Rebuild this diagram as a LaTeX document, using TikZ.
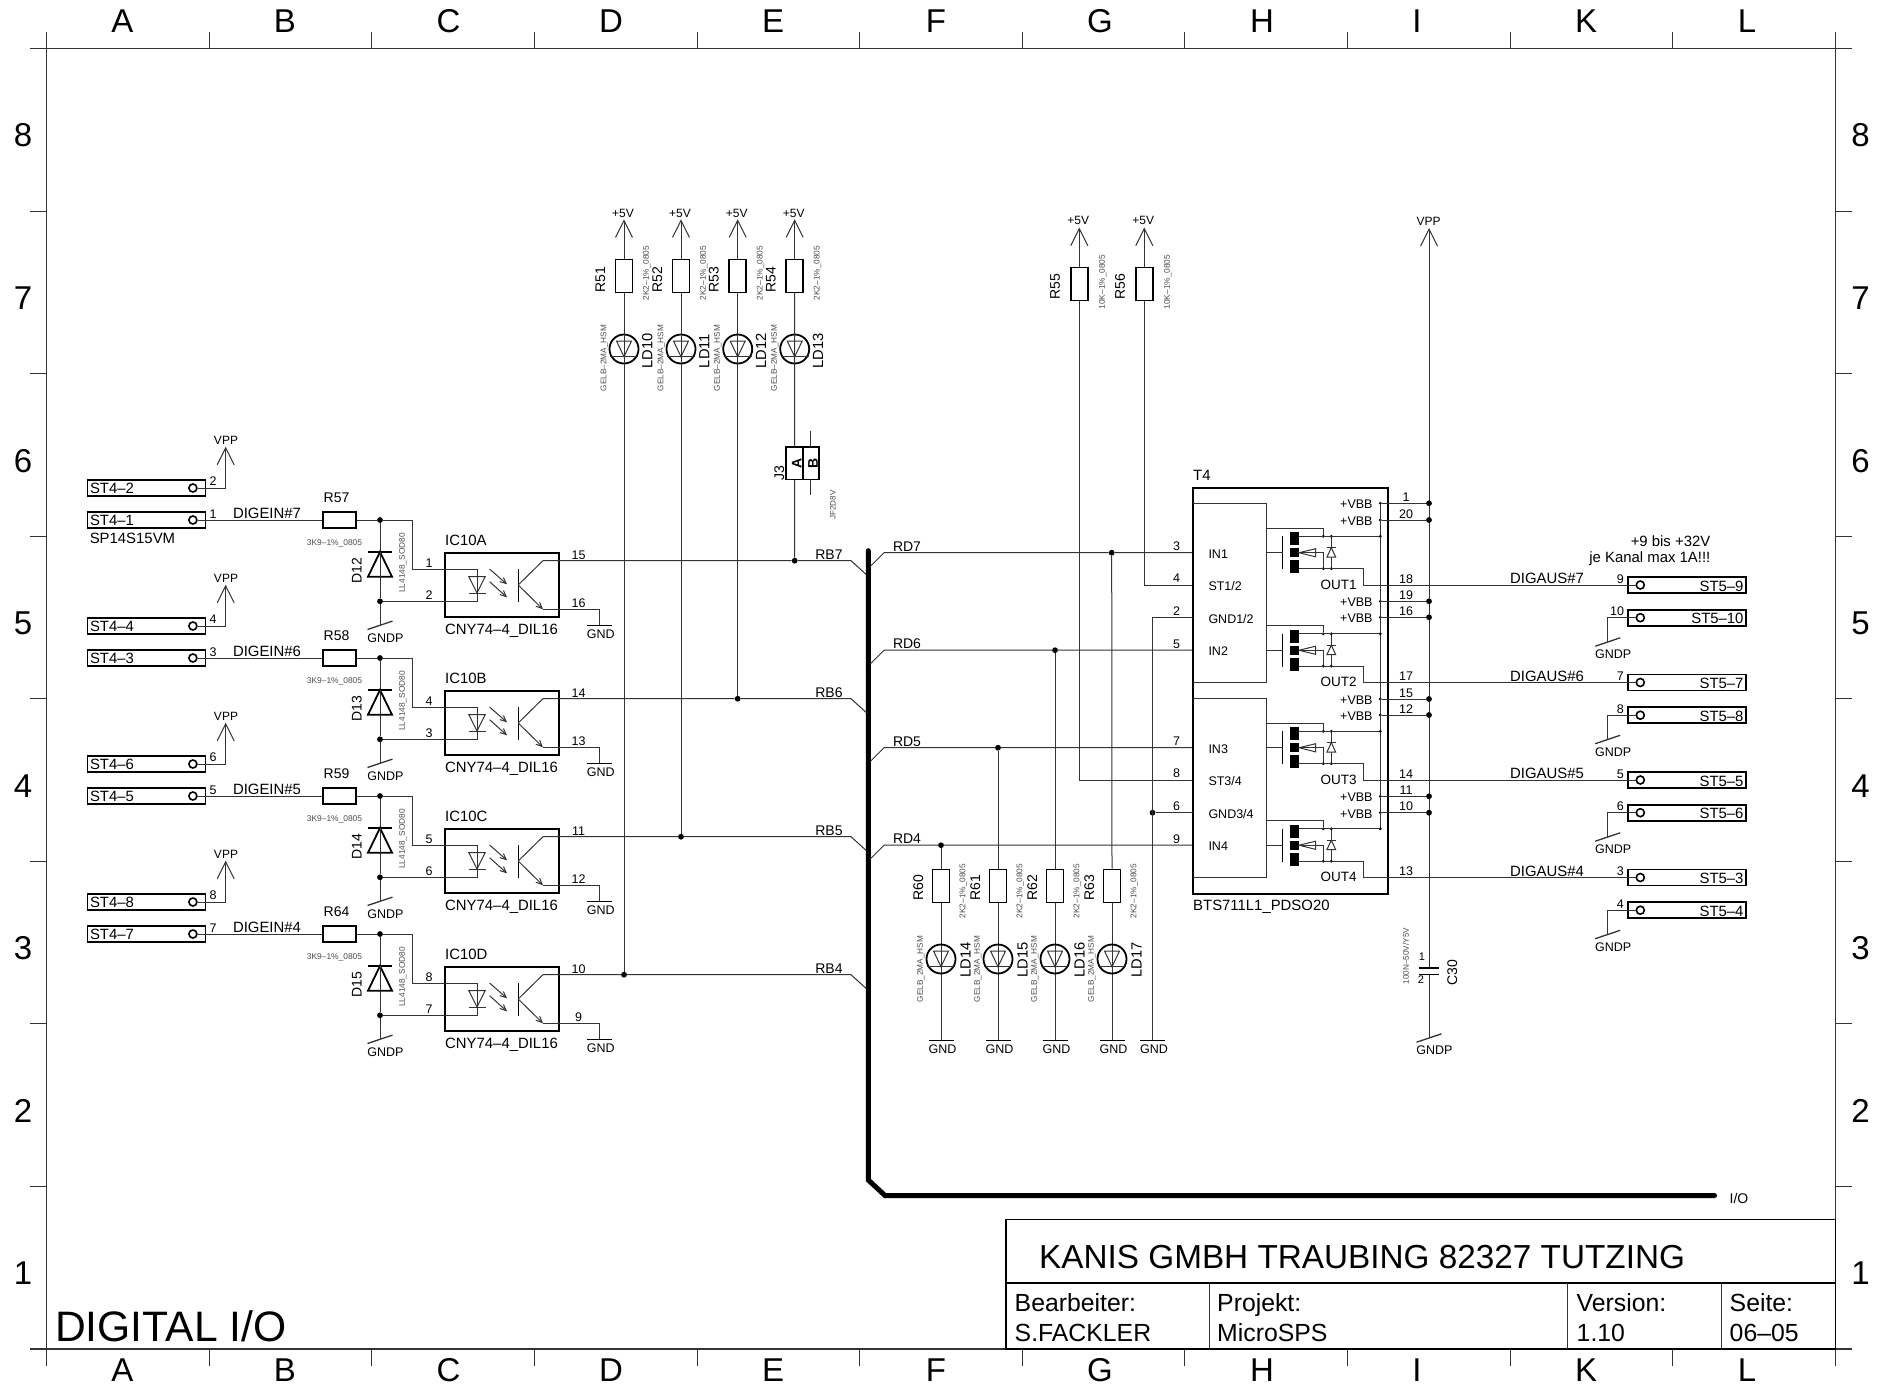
\documentclass[tikz,border=0pt]{standalone}
\usepackage{fontspec}
\setmainfont{Liberation Sans}
\usetikzlibrary{arrows.meta}

\tikzset{
    txt/.style={inner sep=0pt, font=\fontsize{#1}{#1}\selectfont, text height=#1*0.72pt, text depth=0pt},
    big/.style={txt=14.9},
    small/.style={txt=12.5},
    tiny/.style={txt=#1, text=black!70},
    wire/.style={line width=1pt, black!80},
    heavy/.style={line width=1.8pt, black},
    railtip/.style={-{Straight Barb[length=17pt,width=17pt]}},
    smalltip/.style={-{Straight Barb[length=6pt,width=5.5pt]}},
    stbox/.style={draw, line width=1.8pt, minimum width=118pt, minimum height=16pt, inner sep=0pt},
    stpad/.style={draw, circle, line width=1.6pt, minimum size=8pt, inner sep=0pt},
    resv/.style={draw, line width=1.6pt, minimum width=17pt, minimum height=33pt, inner sep=0pt},
    resh/.style={draw, line width=1.6pt, minimum width=33pt, minimum height=16.5pt, inner sep=0pt},
    dot/.style={fill=black, circle, minimum size=5.8pt, inner sep=0pt},
    minidot/.style={fill=black, circle, minimum size=3.2pt, inner sep=0pt},
    jumper/.style={draw, line width=1.6pt, minimum width=16.5pt, minimum height=32.6pt, inner sep=0pt},
    ledsym/.pic={
        \draw[heavy] (0,0) circle [radius=14.5pt];
        \draw[wire] (-7.5,-8) -- (7.5,-8) -- (0,7.7) -- cycle;
        \draw[wire] (-14,7.7) -- (14,7.7);
    },
    gndsym/.pic={
        \draw[heavy, line width=1.3pt] (-12.5,0) -- (12.5,0);
        \node[small] (-t) at (1.5,8.5) {GND};
    },
    gndpsym/.pic={
        \draw[wire, line width=1.3pt] (-12.5,4.2) -- (12.5,-4.2);
        \node[small] (-t) at (5.5,12.4) {GNDP};
    },
    fetsym/.pic={
        \fill (0,-20.7) rectangle (9,-7.7);
        \fill (0,-4.7) rectangle (9,4);
        \fill (0,7.3) rectangle (9,20);
        \draw[heavy, line width=1.3pt] (-7.3,-17) -- (-7.3,16.3);
        \draw[wire] (9,-0.3) -- (25.7,-0.3);
        \draw[wire] (9,-0.3) -- (25.7,-4.3) -- (25.7,3.9) -- cycle;
        \draw[wire] (25.7,-0.3) -- (33.3,-0.3) -- (33.3,16);
        \draw[wire] (41.3,-16) -- (41.3,16);
        \draw[wire, fill=white] (41.3,-5.4) -- (37,4) -- (45.6,4) -- cycle;
        \draw[wire] (36.6,-5.4) -- (46,-5.4);
    }
}

\begin{document}
\begin{tikzpicture}[x=1pt, y=-1pt]
    \useasboundingbox (0,0) rectangle (1888,1387);

    % Frame
    \draw[wire, line width=1.3pt] (30,48.5) -- (1852,48.5);
    \draw[wire, line width=1.3pt] (30,1349) -- (1852,1349);
    \draw[wire, line width=1.3pt] (46.7,32) -- (46.7,1366);
    \draw[wire, line width=1.3pt] (1835.3,32) -- (1835.3,1366);
    \foreach \k in {1,...,10} {
        \draw[wire] (46.7+162.6*\k,32) -- (46.7+162.6*\k,48.5);
        \draw[wire] (46.7+162.6*\k,1349) -- (46.7+162.6*\k,1366);
    }
    \foreach \k in {1,...,7} {
        \draw[wire] (30,48.5+162.56*\k) -- (46.7,48.5+162.56*\k);
        \draw[wire] (1835.3,48.5+162.56*\k) -- (1852,48.5+162.56*\k);
    }
    \foreach \c/\x in {A/122.5,B/285,C/448.5,D/611,E/773,F/936,G/1100,H/1262,I/1417,K/1586,L/1747} {
        \node[txt=33] (top\c) at (\x,20.5) {\c};
        \node[txt=33] (bot\c) at (\x,1369.5) {\c};
    }
    \foreach \r in {1,...,8} {
        \node[txt=33] (lft\r) at (23,135+162.56*8-162.56*\r) {\r};
        \node[txt=33] (rgt\r) at (1860.5,135+162.56*8-162.56*\r) {\r};
    }

    % Title block
    \draw[heavy, line width=1.4pt] (1006,1219.5) rectangle (1835.3,1349);
    \draw[heavy, line width=1.4pt] (1006,1283) -- (1835.3,1283);
    \draw[wire] (1209,1283) -- (1209,1349);
    \draw[wire] (1567,1283) -- (1567,1349);
    \draw[wire] (1721,1283) -- (1721,1349);
    \node[txt=33.3, anchor=base west] (title) at (1039,1268) {KANIS GMBH TRAUBING 82327 TUTZING};
    \node[txt=42.6, anchor=base west] (sheet) at (55,1341) {DIGITAL I/O};
    \foreach \x/\top/\bot in {1014.5/Bearbeiter:/S.FACKLER, 1217/Projekt:/MicroSPS, 1576.5/Version:/1.10, 1729.5/Seite:/06–05} {
        \node[txt=24.8, anchor=base west] at (\x,1311.5) {\top};
        \node[txt=24.8, anchor=base west] at (\x,1341.5) {\bot};
    }

    % Bus
    \draw[line width=5pt, line cap=round] (868.3,550.7) -- (868.3,1180) -- (885,1195.5) -- (1714.5,1195.5);
    \node[txt=14] (io) at (1739,1198) {I/O};

    % Input channels
    \foreach \ch/\dy/\pa/\pb/\ra/\da/\ic/\ia/\ib/\oa/\ob/\tap in {
        7/0/2/1/57/12/A/1/2/15/16/794.7,
        6/138/4/3/58/13/B/4/3/14/13/737.7,
        5/276/6/5/59/14/C/5/6/11/12/681,
        4/414/8/7/64/15/D/8/7/10/9/624} {
    \begin{scope}[shift={(0,\dy)}]
        % Connector with VPP
        \node[stbox] (st\pa) at (146.5,488) {};
        \node[big, anchor=west] (stt\pa) at (89.8,488) {ST4–\pa};
        \node[stpad] (pad\pa) at (192.9,488) {};
        \coordinate (vpp\pa) at (225.7,446.7);
        \draw[wire] (pad\pa) -- (st\pa.east);
        \draw[wire, railtip] (st\pa.east) -| (vpp\pa);
        \node[txt=12] (vppt\pa) at (226,440) {VPP};
        \node[small] (pa\pa) at (213,481) {\pa};

        % Connector with signal
        \node[stbox] (st\pb) at (146.5,520) {};
        \node[big, anchor=west] (stt\pb) at (89.8,520) {ST4–\pb};
        \node[stpad] (pad\pb) at (192.9,520) {};
        \node[small] (pb\pb) at (213,513.5) {\pb};
        \node[big] (dig\ch) at (267,513.5) {DIGEIN\#\ch};
        \node[resh] (R\ra) at (339.5,520) {};
        \node[txt=14] (Rt\ra) at (336.5,497.5) {R\ra};
        \node[tiny=8.4] (Rv\ra) at (334.5,542.5) {3K9–1\%\_0805};
        \draw[wire] (pad\pb) -- (R\ra.west);

        % Protection diode
        \node[dot] (da\da) at (380,520) {};
        \node[dot] (db\da) at (380,601.3) {};
        \coordinate (gp\da) at (380,625.3);
        \draw[wire] (R\ra.east) -- (da\da) -- (db\da) -- (gp\da);
        \draw[heavy, fill=white] (380,552) -- (368,576.7) -- (392,576.7) -- cycle;
        \draw[heavy] (368,552) -- (392,552);
        \draw[wire] (380,552) -- (380,576.7);
        \pic (gp\da s) at (gp\da) {gndpsym};
        \node[txt=14, rotate=90] (Dt\da) at (356.5,571) {D\da};
        \node[tiny=8.3, rotate=90] (Dv\da) at (402,563) {LL4148\_SOD80};

        % Optocoupler
        \node[draw, line width=1.8pt, minimum width=114pt, minimum height=64.6pt, inner sep=0pt] (ic\ic) at (502,585) {};
        \node[big, anchor=west] (ict\ic) at (445,540) {IC10\ic};
        \node[big, anchor=west] (icv\ic) at (445,629) {CNY74–4\_DIL16};
        \coordinate (an\ic) at (477,569);
        \coordinate (ka\ic) at (477,601.3);
        \draw[wire] (da\da) -- (412.9,520) -- (412.9,569) -- (an\ic) -- (ka\ic) -- (db\da);
        \draw[wire] (468.8,576.7) -- (485.2,576.7) -- (477,593) -- cycle;
        \draw[wire] (468.5,593) -- (485.5,593);
        \node[small] (ia\ic) at (429,563) {\ia};
        \node[small] (ib\ic) at (429,594.5) {\ib};
        \draw[wire, smalltip] (489.6,569) -- (507,584.3);
        \draw[wire, smalltip] (489.6,581.7) -- (507,597.3);
        \draw[heavy, line width=1.3pt] (518.2,569) -- (518.2,601.7);
        \draw[wire, smalltip] (518.2,585) -- (542.9,609.3);
        \draw[wire] (518.2,585) -- (542.9,560.7);
        \coordinate (gn\ic) at (599.3,625.7);
        \draw[wire] (542.9,609.3) -| (gn\ic);
        \pic (gn\ic s) at (gn\ic) {gndsym};
        \node[small] (oa\ic) at (578.6,555) {\oa};
        \node[small] (ob\ic) at (578.6,602.5) {\ob};

        % Line to bus
        \node[dot] (tap\ch) at (\tap,560.7) {};
        \draw[wire] (542.9,560.7) -- (tap\ch) -- (851,560.7) -- (866,574.3);
        \node[txt=14] (rb\ch) at (829,554) {RB\ch};
    \end{scope}
    }
    \node[big, anchor=west] (st4type) at (89.6,538.3) {SP14S15VM};

    % LED columns from +5V
    \foreach \x/\r/\l/\ch in {624/51/10/4, 681/52/11/5, 737.7/53/12/6, 794.7/54/13/7} {
        \coordinate (rail\r) at (\x,219.3);
        \node[resv] (R\r) at (\x,275.8) {};
        \draw[wire, railtip] (R\r.north) -- (rail\r);
        \node[txt=12] (railt\r) at (\x-1,213) {+5V};
        \node[txt=14, rotate=90] (Rt\r) at (\x-24,279.5) {R\r};
        \node[tiny=8.3, rotate=90] (Rv\r) at (\x+22,273) {2K2–1\%\_0805};
        \pic (LD\l) at (\x,349) {ledsym};
        \node[txt=14.7, rotate=90] (LDt\l) at (\x+23.2,351) {LD\l};
        \node[tiny=8.2, rotate=90] (LDv\l) at (\x-20.7,358) {GELB–2MA\_HSM};
        \ifnum\r=54\else
            \draw[wire] (R\r.south) -- (tap\ch);
        \fi
    }

    % Jumper J3
    \node[jumper] (J3a) at (794.5,463) {};
    \node[jumper] (J3b) at (811,463) {};
    \node[font=\bfseries\fontsize{14}{14}\selectfont, inner sep=0pt, rotate=90] (J3at) at (796.7,463) {A};
    \node[font=\bfseries\fontsize{14}{14}\selectfont, inner sep=0pt, rotate=90] (J3bt) at (813,463) {B};
    \draw[wire] (R54.south) -- (J3a.north);
    \draw[wire] (J3a.south) -- (tap7);
    \draw[wire] (810.7,430.7) -- (810.7,446.7);
    \draw[wire] (810.7,479.3) -- (810.7,495.3);
    \node[txt=14, rotate=90] (J3t) at (779,472.7) {J3};
    \node[tiny=8, rotate=90] (J3v) at (832.7,505) {JF2D8V};

    % Driver lines
    \foreach \n/\dy/\xd in {7/0/1111.7, 6/97.5/1055, 5/195/998, 4/292.5/941} {
    \begin{scope}[shift={(0,\dy)}]
        \node[dot] (rd\n) at (\xd,552.7) {};
        \draw[wire] (870,566.7) -- (884,552.7) -- (rd\n) -- (1192.7,552.7);
        \node[txt=14] (rdt\n) at (907,546) {RD\n};
    \end{scope}
    }

    % LED columns to GND
    \foreach \x/\r/\l/\n in {941/60/14/4, 998/61/15/5, 1055/62/16/6, 1112/63/17/7} {
        \node[resv] (R\r) at (\x,885.8) {};
        \draw[wire] (rd\n) -- (R\r.north);
        \coordinate (gl\r) at (\x,1040.3);
        \draw[wire] (R\r.south) -- (gl\r);
        \pic (gl\r s) at (gl\r) {gndsym};
        \node[txt=14, rotate=90] (Rt\r) at (\x-23,888) {R\r};
        \node[tiny=8.3, rotate=90] (Rv\r) at (\x+21.3,891) {2K2–1\%\_0805};
        \pic (LD\l) at (\x,959) {ledsym};
        \node[txt=14.7, rotate=90] (LDt\l) at (\x+24.2,960) {LD\l};
        \node[tiny=8.2, rotate=90] (LDv\l) at (\x-21,969) {GELB\_2MA\_HSM};
    }

    % Status resistors
    \foreach \x/\r/\y in {1079.3/55/780, 1144.3/56/585} {
        \coordinate (rail\r) at (\x,227.6);
        \node[resv] (R\r) at (\x,283.8) {};
        \draw[wire, railtip] (R\r.north) -- (rail\r);
        \node[txt=12] (railt\r) at (\x-1,220.5) {+5V};
        \node[txt=14, rotate=90] (Rt\r) at (\x-24.5,286.5) {R\r};
        \node[tiny=8.3, rotate=90] (Rv\r) at (\x+22.5,282) {10K–1\%\_0805};
        \draw[wire] (R\r.south) |- (1192.7,\y);
    }

    % Switch T4
    \node[draw, line width=1.8pt, minimum width=195.6pt, minimum height=406.3pt, inner sep=0pt] (T4) at (1290.5,690.85) {};
    \node[big, anchor=west] (T4t) at (1193,475) {T4};
    \node[big, anchor=west] (T4v) at (1193,905) {BTS711L1\_PDSO20};
    \draw[wire] (1192.7,503.3) -| (1266.3,682.3) -- (1192.7,682.3);
    \draw[wire] (1192.7,698.9) -| (1266.3,877.7) -- (1192.7,877.7);
    \node[small, anchor=west] (t1) at (1208.3,553.7) {IN1};
    \node[small, anchor=west] (t2) at (1208.3,585.7) {ST1/2};
    \node[small, anchor=west] (t3) at (1208.3,618.7) {GND1/2};
    \node[small, anchor=west] (t4) at (1208.3,650.5) {IN2};
    \node[small, anchor=west] (t5) at (1208.3,748.7) {IN3};
    \node[small, anchor=west] (t6) at (1208.3,780.7) {ST3/4};
    \node[small, anchor=west] (t7) at (1208.3,813.7) {GND3/4};
    \node[small, anchor=west] (t8) at (1208.3,845.7) {IN4};
    \foreach \p/\y in {3/552.7, 4/585, 2/617.7, 5/650.2, 7/747.7, 8/780, 6/812.7, 9/845.2} {
        \node[small] (pl\p) at (1176.7,\y-6.7) {\p};
    }
    \node[dot] (gnd6) at (1152.5,812.7) {};
    \coordinate (gl65) at (1152.5,1040.3);
    \draw[wire] (1192.7,617.7) -- (1152.5,617.7) -- (gl65);
    \draw[wire] (gnd6) -- (1192.7,812.7);
    \pic (gl65s) at (gl65) {gndsym};

    % Supply
    \coordinate (railv) at (1429,228);
    \node[txt=12] (railvt) at (1428.5,221) {VPP};
    \draw[wire, railtip] (1429,968) -- (railv);
    \draw[wire] (1429,974.5) -- (1429,1038);
    \draw[heavy, line width=1.5pt] (1419,968) -- (1439,968);
    \draw[heavy, line width=1.5pt] (1419,974.5) -- (1439,974.5);
    \pic (c30g) at (1429,1038) {gndpsym};
    \node[txt=14, rotate=90] (C30t) at (1452,973) {C30};
    \node[txt=11] (C30a) at (1422,957) {1};
    \node[txt=11] (C30b) at (1421,979.5) {2};
    \node[tiny=8.2, rotate=90] (C30v) at (1406,956) {100N–50V/Y5V};
    \foreach \p/\y in {1/503.3, 20/520, 19/601.3, 16/617.3, 15/699, 12/715, 11/796.3, 10/812.7} {
        \node[dot] (vb\p) at (1429,\y) {};
        \node[minidot] (vi\p) at (1380.3,\y) {};
        \draw[wire] (vi\p) -- (vb\p);
        \node[small] (vl\p) at (1406,\y-6.5) {\p};
        \node[small, anchor=east] (vt\p) at (1372.7,\y+1) {+VBB};
    }
    \draw[wire] (vi1) -- (1380.3,829);

    % Output channels
    \foreach \ch/\dy/\q/\m/\pa/\sa/\pb/\sb in {
        1/0/18/7/9/9/10/10,
        2/97.5/17/6/7/7/8/8,
        3/195/14/5/5/5/6/6,
        4/292.5/13/4/3/3/4/4} {
    \begin{scope}[shift={(0,\dy)}]
        \pic (fet\ch) at (1290,553) {fetsym};
        \draw[wire] (1266.3,552.7) -- (1282.7,552.7);
        \node[minidot] (top\ch) at (1323.3,536.3) {};
        \node[minidot] (dtop\ch) at (1331.3,536.3) {};
        \node[minidot] (bot\ch) at (1323.3,568.7) {};
        \node[minidot] (dbot\ch) at (1331.3,568.7) {};
        \node[minidot] (bvi\ch) at (1380.3,536.3) {};
        \draw[wire] (1266.3,528.3) -| (top\ch);
        \draw[wire] (1299,536.3) -- (bvi\ch);
        \draw[wire] (1299,568.7) -- (1363.7,568.7) -- (1363.7,585) -- (1628,585);
        \node[big, anchor=east, txt=13.5] (out\ch) at (1356.7,584.5) {OUT\ch};
        \node[small] (ql\ch) at (1406,578.5) {\q};

        % Output connectors
        \node[stbox] (so\pa) at (1687.3,585) {};
        \node[big, anchor=east] (sot\pa) at (1743.7,586) {ST5–\sa};
        \node[stpad] (spd\pa) at (1640.3,585) {};
        \draw[wire] (so\pa.west) -- (spd\pa);
        \node[small] (sl\pa) at (1620.3,578.7) {\pa};
        \node[big] (dg\ch) at (1547,578.3) {DIGAUS\#\m};

        \node[stbox] (so\pb) at (1687.3,617.7) {};
        \node[big, anchor=east] (sot\pb) at (1743.7,618.5) {ST5–\sb};
        \node[stpad] (spd\pb) at (1640.3,617.7) {};
        \draw[wire] (so\pb.west) -- (spd\pb);
        \coordinate (gq\pb) at (1607.7,642);
        \draw[wire] (so\pb.west) -| (gq\pb);
        \pic (gq\pb s) at (gq\pb) {gndpsym};
        \node[small] at ({\pb==10 ? 1617 : 1620.3},611.3) {\pb};
    \end{scope}
    }

    % Note
    \node[big, anchor=east] (note1) at (1710.5,540.7) {+9 bis +32V};
    \node[big, anchor=east] (note2) at (1710.5,556.7) {je Kanal max 1A!!!};
\end{tikzpicture}
\end{document}
